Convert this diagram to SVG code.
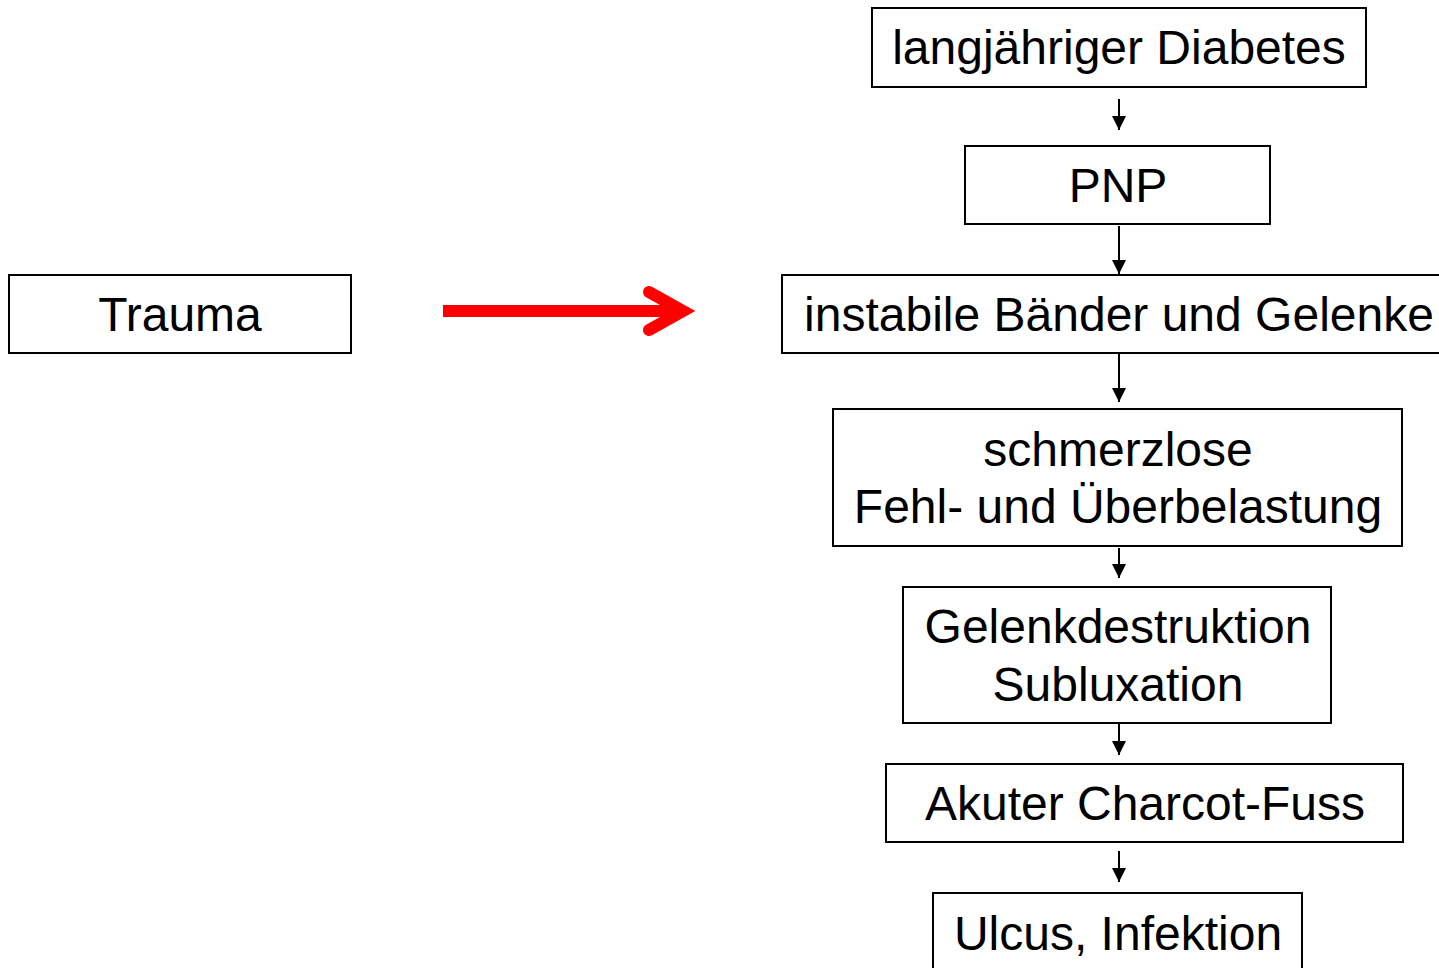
<svg xmlns="http://www.w3.org/2000/svg" width="1439" height="968" viewBox="0 0 1439 968">
  <style>
    .box { fill: #ffffff; stroke: #000000; stroke-width: 2; }
    .lbl { font-family: "Liberation Sans", Arial, sans-serif; font-size: 48px; fill: #000000; text-anchor: middle; }
    .link { stroke: #000000; stroke-width: 2; fill: none; }
  </style>
  <defs>
    <marker id="head" viewBox="0 0 10 10" refX="10" refY="5" markerWidth="14" markerHeight="14" markerUnits="userSpaceOnUse" orient="auto">
      <path d="M0,0 L10,5 L0,10 Z" fill="#000000"/>
    </marker>
  </defs>
  <rect width="1439" height="968" fill="#ffffff"/>

  <g id="node-diabetes">
    <rect class="box" x="872" y="8" width="494" height="79"/>
    <text class="lbl" x="1119" y="64">langjähriger Diabetes</text>
  </g>
  <g id="node-pnp">
    <rect class="box" x="965" y="146" width="305" height="78"/>
    <text class="lbl" x="1118" y="202">PNP</text>
  </g>
  <g id="node-trauma">
    <rect class="box" x="9" y="275" width="342" height="78"/>
    <text class="lbl" x="180" y="331">Trauma</text>
  </g>
  <g id="node-instabil">
    <rect class="box" x="782" y="275" width="680" height="78"/>
    <text class="lbl" x="1119" y="331">instabile Bänder und Gelenke</text>
  </g>
  <g id="node-belastung">
    <rect class="box" x="833" y="409" width="569" height="137"/>
    <text class="lbl" x="1118" y="466">schmerzlose</text>
    <text class="lbl" x="1118" y="523">Fehl- und Überbelastung</text>
  </g>
  <g id="node-destruktion">
    <rect class="box" x="903" y="587" width="428" height="136"/>
    <text class="lbl" x="1118" y="643">Gelenkdestruktion</text>
    <text class="lbl" x="1118" y="701">Subluxation</text>
  </g>
  <g id="node-charcot">
    <rect class="box" x="886" y="764" width="517" height="78"/>
    <text class="lbl" x="1145" y="820">Akuter Charcot-Fuss</text>
  </g>
  <g id="node-ulcus">
    <rect class="box" x="933" y="893" width="369" height="100"/>
    <text class="lbl" x="1118" y="950">Ulcus, Infektion</text>
  </g>

  <g id="connectors">
    <line class="link" x1="1119" y1="99" x2="1119" y2="130" marker-end="url(#head)"/>
    <line class="link" x1="1119" y1="226" x2="1119" y2="274" marker-end="url(#head)"/>
    <line class="link" x1="1119" y1="354" x2="1119" y2="402" marker-end="url(#head)"/>
    <line class="link" x1="1119" y1="548" x2="1119" y2="578" marker-end="url(#head)"/>
    <line class="link" x1="1119" y1="724" x2="1119" y2="755" marker-end="url(#head)"/>
    <line class="link" x1="1119" y1="851" x2="1119" y2="882" marker-end="url(#head)"/>
    <!-- red trauma arrow -->
    <line x1="443" y1="311" x2="680" y2="311" stroke="#ff0000" stroke-width="12"/>
    <polyline points="649,292 683,311 649,330" fill="none" stroke="#ff0000" stroke-width="12" stroke-linecap="round" stroke-linejoin="miter"/>
  </g>
</svg>
